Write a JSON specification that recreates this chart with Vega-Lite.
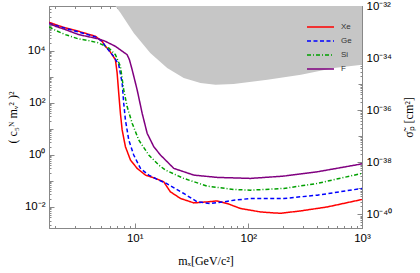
{
 "$schema": "https://vega.github.io/schema/vega-lite/v6.json",
 "width": 313,
 "height": 222,
 "autosize": {"type": "none"},
 "padding": {"left": 49, "top": 6, "right": 58, "bottom": 45},
 "background": "white",
 "config": {
  "view": {"stroke": "#888", "strokeWidth": 1},
  "axis": {"domainColor": "#888", "tickColor": "#888", "labelColor": "#000", "labelFont": "Liberation Sans", "labelFontSize": 11.5, "grid": false, "labelOverlap": false, "labelFlush": false, "labelBound": false, "titleFont": "Liberation Serif", "titleFontWeight": "normal", "titleFontSize": 12, "titleColor": "#000", "zindex": 1}
 },
 "datasets": {
  "excl": [
   {"m": 6.76, "v": 518800}, {"m": 7.48, "v": 283800}, {"m": 9.8, "v": 48100}, {"m": 13.7, "v": 8170},
   {"m": 19.3, "v": 2160}, {"m": 27.0, "v": 887}, {"m": 37.9, "v": 569}, {"m": 51.4, "v": 490},
   {"m": 74.1, "v": 521}, {"m": 147, "v": 760}, {"m": 290, "v": 1186}, {"m": 566, "v": 2160}, {"m": 1000, "v": 2884}
  ],
  "curves": [
   {"s": "Xe", "m": 1.76, "v": 123300}, {"s": "Xe", "m": 2.0, "v": 100500}, {"s": "Xe", "m": 2.45, "v": 75000},
   {"s": "Xe", "m": 3.21, "v": 55400}, {"s": "Xe", "m": 4.51, "v": 35600}, {"s": "Xe", "m": 5.16, "v": 22800},
   {"s": "Xe", "m": 5.52, "v": 14650}, {"s": "Xe", "m": 5.9, "v": 10900}, {"s": "Xe", "m": 6.32, "v": 7010},
   {"s": "Xe", "m": 6.76, "v": 4500}, {"s": "Xe", "m": 7.0, "v": 1384}, {"s": "Xe", "m": 7.23, "v": 234},
   {"s": "Xe", "m": 7.48, "v": 39.7}, {"s": "Xe", "m": 7.75, "v": 9.03}, {"s": "Xe", "m": 8.28, "v": 2.05},
   {"s": "Xe", "m": 9.17, "v": 0.631}, {"s": "Xe", "m": 10.5, "v": 0.302}, {"s": "Xe", "m": 12.43, "v": 0.1667},
   {"s": "Xe", "m": 15.22, "v": 0.1244}, {"s": "Xe", "m": 18.0, "v": 0.092}, {"s": "Xe", "m": 20.6, "v": 0.0379},
   {"s": "Xe", "m": 25.3, "v": 0.0211}, {"s": "Xe", "m": 33.1, "v": 0.01426}, {"s": "Xe", "m": 43.4, "v": 0.0156},
   {"s": "Xe", "m": 53.2, "v": 0.017}, {"s": "Xe", "m": 65.2, "v": 0.01352}, {"s": "Xe", "m": 85.3, "v": 0.00867},
   {"s": "Xe", "m": 128, "v": 0.00641}, {"s": "Xe", "m": 168, "v": 0.00587}, {"s": "Xe", "m": 192, "v": 0.0057},
   {"s": "Xe", "m": 288, "v": 0.00701}, {"s": "Xe", "m": 496, "v": 0.01}, {"s": "Xe", "m": 1000, "v": 0.0193},

   {"s": "Ge", "m": 1.76, "v": 110000}, {"s": "Ge", "m": 2.0, "v": 95000}, {"s": "Ge", "m": 2.45, "v": 72000},
   {"s": "Ge", "m": 3.21, "v": 52000}, {"s": "Ge", "m": 4.51, "v": 34000}, {"s": "Ge", "m": 5.16, "v": 23000},
   {"s": "Ge", "m": 5.52, "v": 14650}, {"s": "Ge", "m": 6.53, "v": 6040}, {"s": "Ge", "m": 7.23, "v": 2890},
   {"s": "Ge", "m": 7.75, "v": 569}, {"s": "Ge", "m": 8.0, "v": 96.6}, {"s": "Ge", "m": 8.28, "v": 21.9},
   {"s": "Ge", "m": 8.86, "v": 3.72}, {"s": "Ge", "m": 9.8, "v": 0.982}, {"s": "Ge", "m": 11.23, "v": 0.302},
   {"s": "Ge", "m": 13.29, "v": 0.1667}, {"s": "Ge", "m": 16.27, "v": 0.107}, {"s": "Ge", "m": 19.0, "v": 0.08},
   {"s": "Ge", "m": 22.8, "v": 0.05}, {"s": "Ge", "m": 27.0, "v": 0.0328}, {"s": "Ge", "m": 35.5, "v": 0.0156},
   {"s": "Ge", "m": 46.5, "v": 0.01352}, {"s": "Ge", "m": 60.8, "v": 0.0156}, {"s": "Ge", "m": 74.5, "v": 0.0181},
   {"s": "Ge", "m": 104.6, "v": 0.0211}, {"s": "Ge", "m": 205, "v": 0.0211}, {"s": "Ge", "m": 405, "v": 0.0282},
   {"s": "Ge", "m": 1000, "v": 0.0512},

   {"s": "Si", "m": 1.76, "v": 81900}, {"s": "Si", "m": 2.0, "v": 60600}, {"s": "Si", "m": 2.45, "v": 41400},
   {"s": "Si", "m": 3.21, "v": 28200}, {"s": "Si", "m": 3.93, "v": 24300}, {"s": "Si", "m": 4.82, "v": 19800},
   {"s": "Si", "m": 5.9, "v": 12700}, {"s": "Si", "m": 6.76, "v": 7010}, {"s": "Si", "m": 7.48, "v": 2480},
   {"s": "Si", "m": 8.0, "v": 314}, {"s": "Si", "m": 8.57, "v": 71.4}, {"s": "Si", "m": 9.49, "v": 16.4},
   {"s": "Si", "m": 10.84, "v": 3.72}, {"s": "Si", "m": 13.29, "v": 0.982}, {"s": "Si", "m": 16.27, "v": 0.405},
   {"s": "Si", "m": 18.64, "v": 0.26}, {"s": "Si", "m": 27.0, "v": 0.1244}, {"s": "Si", "m": 43.4, "v": 0.0628},
   {"s": "Si", "m": 74.5, "v": 0.0469}, {"s": "Si", "m": 104.6, "v": 0.0441}, {"s": "Si", "m": 205, "v": 0.0512},
   {"s": "Si", "m": 405, "v": 0.0798}, {"s": "Si", "m": 1000, "v": 0.194},

   {"s": "F", "m": 1.76, "v": 116900}, {"s": "F", "m": 2.0, "v": 86500}, {"s": "F", "m": 2.45, "v": 64500},
   {"s": "F", "m": 3.21, "v": 41400}, {"s": "F", "m": 4.82, "v": 28200}, {"s": "F", "m": 5.52, "v": 22800},
   {"s": "F", "m": 6.76, "v": 14650}, {"s": "F", "m": 8.57, "v": 7010}, {"s": "F", "m": 8.98, "v": 4500},
   {"s": "F", "m": 9.49, "v": 1854}, {"s": "F", "m": 10.5, "v": 314}, {"s": "F", "m": 11.62, "v": 39.7},
   {"s": "F", "m": 12.86, "v": 6.73}, {"s": "F", "m": 14.71, "v": 2.05}, {"s": "F", "m": 16.84, "v": 0.982},
   {"s": "F", "m": 18.64, "v": 0.631}, {"s": "F", "m": 22.06, "v": 0.302}, {"s": "F", "m": 33.1, "v": 0.1667},
   {"s": "F", "m": 53.2, "v": 0.1358}, {"s": "F", "m": 104.6, "v": 0.1244}, {"s": "F", "m": 205, "v": 0.1525},
   {"s": "F", "m": 405, "v": 0.2235}, {"s": "F", "m": 1000, "v": 0.45}
  ],
  "dummy": [{"m": 10, "sigma": 1e-36}]
 },
 "layer": [
  {
   "layer": [
    {
     "data": {"name": "excl"},
     "mark": {"type": "area", "color": "#c6c6c6", "clip": true},
     "encoding": {
      "x": {"field": "m", "type": "quantitative", "scale": {"type": "log", "domain": [1.76, 1000]}},
      "y": {"field": "v", "type": "quantitative", "scale": {"type": "log", "domain": [0.00155, 518800]}},
      "y2": {"datum": 518800}
     }
    },
    {
     "data": {"name": "curves"},
     "mark": {"type": "line", "strokeWidth": 1.5, "clip": true},
     "encoding": {
      "x": {"field": "m", "type": "quantitative", "scale": {"type": "log", "domain": [1.76, 1000]},
       "axis": {"orient": "bottom", "title": "mₓ[GeV/c²]", "titleFontSize": 12,
        "values": [2,3,4,5,6,7,8,9,10,20,30,40,50,60,70,80,90,100,200,300,400,500,600,700,800,900,1000],
        "labelExpr": "datum.value==10?'10¹':datum.value==100?'10²':datum.value==1000?'10³':''",
        "tickSize": {"condition": {"test": "datum.value==10||datum.value==100||datum.value==1000", "value": -5}, "value": -2.5},
        "labelPadding": 9, "titlePadding": 9}},
      "y": {"field": "v", "type": "quantitative", "scale": {"type": "log", "domain": [0.00155, 518800]},
       "axis": {"orient": "left", "title": "( c₅ᴺ mᵥ² )²",
        "values": [0.002,0.003,0.004,0.005,0.006,0.007,0.008,0.009,0.01,0.02,0.03,0.04,0.05,0.06,0.07,0.08,0.09,0.1,0.2,0.3,0.4,0.5,0.6,0.7,0.8,0.9,1,2,3,4,5,6,7,8,9,10,20,30,40,50,60,70,80,90,100,200,300,400,500,600,700,800,900,1000,2000,3000,4000,5000,6000,7000,8000,9000,10000,20000,30000,40000,50000,60000,70000,80000,90000,100000,200000,300000,400000,500000],
        "labelExpr": "datum.value==0.01?'10⁻²':datum.value==1?'10⁰':datum.value==100?'10²':datum.value==10000?'10⁴':''",
        "tickSize": {"condition": [{"test": "datum.value==0.01||datum.value==1||datum.value==100||datum.value==10000", "value": -5}, {"test": "datum.value==0.1||datum.value==10||datum.value==1000||datum.value==100000", "value": -4}], "value": -2},
        "labelPadding": 9, "titlePadding": 5}},
      "color": {"field": "s", "type": "nominal",
       "scale": {"domain": ["Xe", "Ge", "Si", "F"], "range": ["#ff0000", "#0000ff", "#00a000", "#800080"]},
       "legend": {"title": null, "orient": "none", "legendX": 257, "legendY": 14, "symbolType": "stroke", "symbolSize": 729, "symbolStrokeWidth": 1.3, "labelFontSize": 8, "labelFont": "Liberation Sans", "labelColor": "#333", "labelOffset": 6, "clipHeight": 14, "rowPadding": 0, "padding": 0}},
      "strokeDash": {"field": "s", "type": "nominal",
       "scale": {"domain": ["Xe", "Ge", "Si", "F"], "range": [[1, 0], [4, 2.5], [4, 2, 1, 2], [1, 0]]},
       "legend": {"title": null, "orient": "none", "legendX": 257, "legendY": 14, "symbolType": "stroke", "symbolSize": 729, "symbolStrokeWidth": 1.3, "labelFontSize": 8, "labelFont": "Liberation Sans", "labelColor": "#333", "labelOffset": 6, "clipHeight": 14, "rowPadding": 0, "padding": 0}}
     }
    }
   ]
  },
  {
   "data": {"name": "dummy"},
   "mark": {"type": "point", "opacity": 0},
   "encoding": {
    "x": {"field": "m", "type": "quantitative", "scale": {"type": "log", "domain": [1.76, 1000]},
     "axis": {"orient": "top", "title": null, "labels": false,
      "values": [2,3,4,5,6,7,8,9,10,20,30,40,50,60,70,80,90,100,200,300,400,500,600,700,800,900,1000],
      "tickSize": {"condition": {"test": "datum.value==10||datum.value==100||datum.value==1000", "value": -5}, "value": -2.5}}},
    "y": {"field": "sigma", "type": "quantitative", "scale": {"type": "log", "domain": [2.985e-41, 1e-32]},
     "axis": {"orient": "right", "title": "σ̃ₚ [cm²]", "titleAngle": 270, "titleBaseline": "top",
      "values": [3e-41,4e-41,5e-41,6e-41,7e-41,8e-41,9e-41,1e-40,2e-40,3e-40,4e-40,5e-40,6e-40,7e-40,8e-40,9e-40,1e-39,2e-39,3e-39,4e-39,5e-39,6e-39,7e-39,8e-39,9e-39,1e-38,2e-38,3e-38,4e-38,5e-38,6e-38,7e-38,8e-38,9e-38,1e-37,2e-37,3e-37,4e-37,5e-37,6e-37,7e-37,8e-37,9e-37,1e-36,2e-36,3e-36,4e-36,5e-36,6e-36,7e-36,8e-36,9e-36,1e-35,2e-35,3e-35,4e-35,5e-35,6e-35,7e-35,8e-35,9e-35,1e-34,2e-34,3e-34,4e-34,5e-34,6e-34,7e-34,8e-34,9e-34,1e-33,2e-33,3e-33,4e-33,5e-33,6e-33,7e-33,8e-33,9e-33,1e-32],
      "labelExpr": "datum.value==1e-40?'10⁻⁴⁰':datum.value==1e-38?'10⁻³⁸':datum.value==1e-36?'10⁻³⁶':datum.value==1e-34?'10⁻³⁴':datum.value==1e-32?'10⁻³²':''",
      "tickSize": {"condition": [{"test": "datum.value==1e-40||datum.value==1e-38||datum.value==1e-36||datum.value==1e-34||datum.value==1e-32", "value": -5}, {"test": "datum.value==1e-39||datum.value==1e-37||datum.value==1e-35||datum.value==1e-33", "value": -4}], "value": -2},
      "labelPadding": 9, "titlePadding": 12}}
   }
  }
 ],
 "resolve": {"scale": {"x": "independent", "y": "independent"}, "axis": {"x": "independent", "y": "independent"}}
}
